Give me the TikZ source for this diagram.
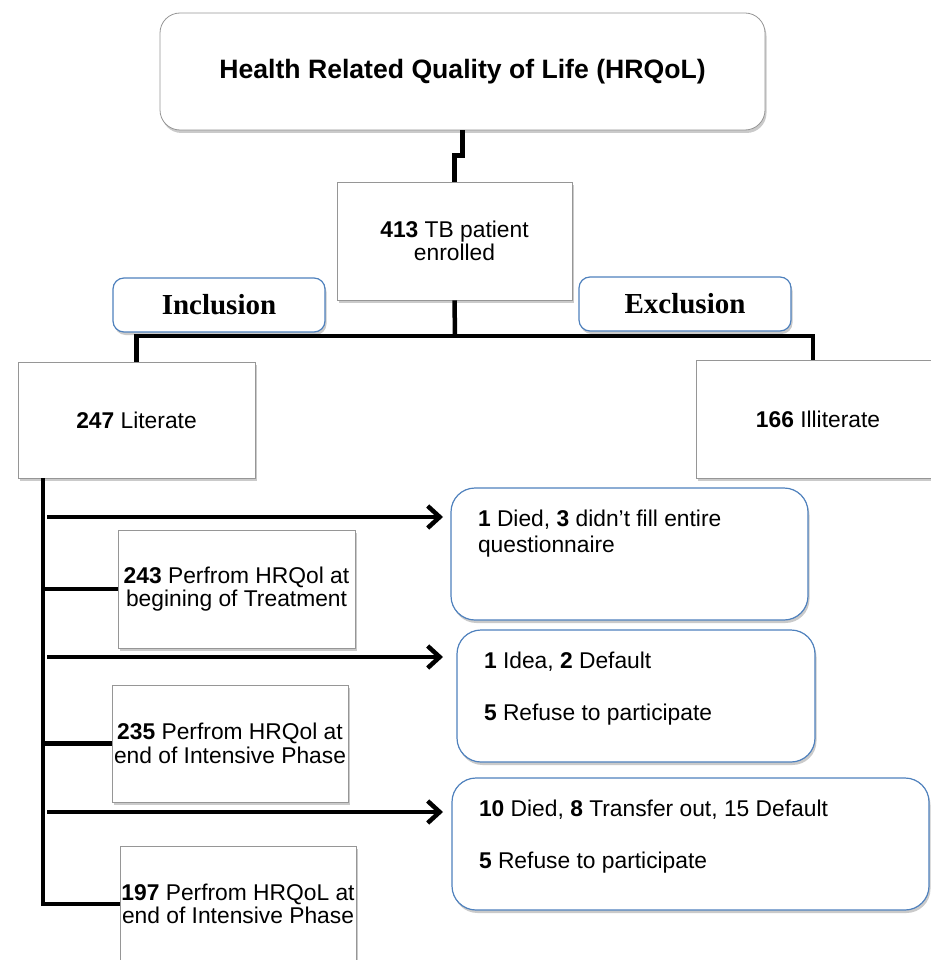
\documentclass[tikz,border=0pt]{standalone}
\usepackage{fontspec}
\setmainfont{Liberation Sans}
\newfontfamily\timesfont{Liberation Serif}
\usetikzlibrary{arrows.meta,shadows}
\definecolor{boxblue}{RGB}{79,129,189}
\definecolor{boxgray}{RGB}{150,150,150}
\newcommand{\toptext}[2]{\parbox[c][88pt][t]{#1}{#2}}
\begin{document}
\begin{tikzpicture}[x=1pt,y=-1pt,
  line/.style={line width=4.5pt},
  arr/.style={line width=4.5pt, -{Straight Barb[length=12pt,width=22pt]}},
  shade/.style={drop shadow={shadow xshift=1.5pt, shadow yshift=-3pt, opacity=0.35, fill=black!60}},
  sbox/.style={draw=boxgray, fill=white, line width=0.8pt, inner sep=0pt, align=center, shade, font=\fontsize{22.8}{23.5}\selectfont},
  tbox/.style={sbox, rounded corners=20pt, font=\fontsize{26.6}{30}\selectfont\bfseries},
  tagbox/.style={draw=boxblue, fill=white, line width=1.2pt, inner sep=0pt, rounded corners=11pt, shade, font=\fontsize{29}{32}\selectfont\timesfont\bfseries},
  rbox/.style={draw=boxblue, fill=white, line width=1.2pt, inner xsep=27pt, inner ysep=22pt, rounded corners=24pt, shade, font=\fontsize{22.8}{26}\selectfont}]
\useasboundingbox (0,0) rectangle (930,960);

% top of the tree
\node [tbox, minimum width=605pt, minimum height=117pt] (hrqol) at (462.5,71.5) {Health Related Quality of Life (HRQoL)};
\node [sbox, minimum width=235pt, minimum height=118pt] (enrol) at (454.5,241) {\textbf{413} TB patient\\enrolled};
\node [tagbox, minimum width=212pt, minimum height=54pt] (incl) at (219,305) {Inclusion};
\node [tagbox, minimum width=212pt, minimum height=54pt] (excl) at (685,304) {Exclusion};
\node [sbox, minimum width=237pt, minimum height=116pt] (lit) at (136.5,420) {\textbf{247} Literate};
\node [sbox, minimum width=244pt, minimum height=118pt] (illit) at (818,419) {\textbf{166} Illiterate};

% follow up
\node [sbox, minimum width=237pt, minimum height=118pt] (b243) at (236.5,589) {\textbf{243} Perfrom HRQol at\\begining of Treatment};
\node [sbox, minimum width=236pt, minimum height=117pt] (b235) at (230,743.5) {\textbf{235} Perfrom HRQol at\\end of Intensive Phase};
\node [sbox, minimum width=236pt, minimum height=116pt] (b197) at (238,904) {\textbf{197} Perfrom HRQoL at\\end of Intensive Phase};

% losses
\node [rbox] (loss1) at (629.5,554) {\toptext{303pt}{\textbf{1} Died, \textbf{3} didn't fill entire\\questionnaire}};
\node [rbox] (loss2) at (636,696) {\toptext{304pt}{\textbf{1} Idea, \textbf{2} Default\\[26pt]\textbf{5} Refuse to participate}};
\node [rbox] (loss3) at (690.5,844) {\toptext{423pt}{\textbf{10} Died, \textbf{8} Transfer out, 15 Default\\[26pt]\textbf{5} Refuse to participate}};

\coordinate (bus) at (455,336);
\coordinate (spine) at (43,478);
\coordinate (a1) at (443,517);
\coordinate (a2) at (443,657);
\coordinate (a3) at (443,812);

\draw [line] (hrqol.south) -- ++(0,25) -| (enrol.north);
\draw [line] (enrol.south) -- (bus);
\draw [line] (lit.north) |- (bus) -| (illit.north -| 813,0);
\draw [line] (spine) |- (b197.west);
\draw [line] (b243.west) -- (b243.west -| spine);
\draw [line] (b235.west) -- (b235.west -| spine);
\draw [arr] ([xshift=4pt]a1 -| spine) -- (a1);
\draw [arr] ([xshift=4pt]a2 -| spine) -- (a2);
\draw [arr] ([xshift=4pt]a3 -| spine) -- (a3);
\end{tikzpicture}
\end{document}
